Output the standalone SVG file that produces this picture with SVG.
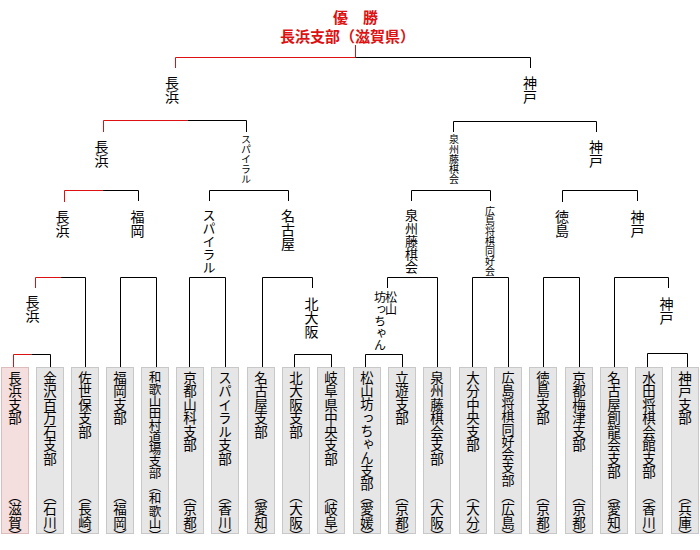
<svg xmlns="http://www.w3.org/2000/svg" width="700" height="550" viewBox="0 0 700 550">
<style>
.bg{fill:#fff}
.box{fill:#e6e6e6;stroke:#c8c8c8;stroke-width:1}
.win{fill:#f4dede;stroke:#dcbcbc;stroke-width:1}
.v{writing-mode:vertical-rl;font-family:"Noto Sans CJK JP","Noto Sans CJK SC",sans-serif;fill:#000}
.n{font-size:13.5px}
.p{font-size:13.5px;font-feature-settings:"vhal" 1;text-anchor:end}
.l{font-size:14px}
.m{font-size:13px}
.s{font-size:10px}
.k{fill:none;stroke:#000;stroke-width:1}
.r{fill:none;stroke:#dd1111;stroke-width:1}
.t{font-family:"Noto Sans CJK JP","Noto Sans CJK SC",sans-serif;font-size:15px;font-weight:bold;fill:#dd1111}
</style>
<rect class="bg" x="0" y="0" width="700" height="550"/>
<g id="title">
<text class="t" x="333" y="23">優　勝</text>
<text class="t" x="280" y="42">長浜支部（滋賀県）</text>
</g>
<g id="connectors">
<path class="r" d="M355.5,45V57.5H175.5V68 M187.5,120.5H103.5V132 M103,190.5H64.5V202 M61,277.5H35.5V288 M31.5,354.5H13.5V367"/>
<path class="k" d="M355.5,57.5H530.5V68 M187.5,120.5H246.5V132 M453.5,132V121.5H596.5V132 M103,190.5H138.5V201 M209.5,201V190.5H288.5V201 M411.5,201V190.5H490.5V201 M562.5,202V190.5H637.5V201 M61,277.5H85.5V367 M120.5,367V277.5H156.5V367 M189.5,367V277.5H225.5V367 M262.5,367V277.5H312.5V288 M387.5,288V277.5H437.5V367 M472.5,367V277.5H508.5V367 M543.5,367V277.5H579.5V367 M614.5,367V277.5H668.5V288 M31.5,354.5H50.5V367 M294.5,367V354.5H331.5V367 M365.5,367V354.5H402.5V367 M647.5,367V353.5H687.5V367"/>
</g>
<g id="w-final-l"><text class="v l" x="172" y="76">長浜</text></g>
<g id="w-final-r"><text class="v l" x="530" y="76">神戸</text></g>
<g id="w-sf-1"><text class="v l" x="101.5" y="140">長浜</text></g>
<g id="w-sf-2"><text class="v s" x="246" y="134">スパイラル</text></g>
<g id="w-sf-3"><text class="v s" x="454" y="134">泉州藤棋会</text></g>
<g id="w-sf-4"><text class="v l" x="596" y="140">神戸</text></g>
<g id="w-qf-1"><text class="v l" x="62.5" y="210">長浜</text></g>
<g id="w-qf-2"><text class="v l" x="137.5" y="210">福岡</text></g>
<g id="w-qf-3"><text class="v m" x="209" y="209">スパイラル</text></g>
<g id="w-qf-4"><text class="v l" x="288" y="209">名古屋</text></g>
<g id="w-qf-5"><text class="v m" x="411.5" y="209">泉州藤棋会</text></g>
<g id="w-qf-6"><text class="v s" x="490" y="206">広島将棋同好会</text></g>
<g id="w-qf-7"><text class="v l" x="562" y="210">徳島</text></g>
<g id="w-qf-8"><text class="v l" x="637.5" y="210">神戸</text></g>
<g id="w-r2-1"><text class="v l" x="32.5" y="295">長浜</text></g>
<g id="w-r2-2"><text class="v l" x="311.5" y="297">北大阪</text></g>
<g id="w-r2-3"><text class="v" style="font-size:12px" x="391" y="291">松山</text><text class="v" style="font-size:12px" x="380" y="291">坊っちゃん</text></g>
<g id="w-r2-4"><text class="v l" x="666.5" y="297">神戸</text></g>
<g id="team-0"><rect class="win" x="1.5" y="367.5" width="27" height="166"/><text class="v n" x="15" y="371">長浜支部</text><text class="v p" x="15" y="536">（滋賀）</text></g>
<g id="team-1"><rect class="box" x="36.5" y="367.5" width="27" height="166"/><text class="v n" x="50" y="371">金沢百万石支部</text><text class="v p" x="50" y="536">（石川）</text></g>
<g id="team-2"><rect class="box" x="71.5" y="367.5" width="27" height="166"/><text class="v n" x="85" y="371">佐世保支部</text><text class="v p" x="85" y="536">（長崎）</text></g>
<g id="team-3"><rect class="box" x="106.5" y="367.5" width="27" height="166"/><text class="v n" x="120" y="371">福岡支部</text><text class="v p" x="120" y="536">（福岡）</text></g>
<g id="team-4"><rect class="box" x="141.5" y="367.5" width="27" height="166"/><text class="v" style="font-size:12.5px;letter-spacing:-0.5px" x="155" y="371">和歌山田村道場支部</text><text class="v p" style="font-size:12.5px" x="155" y="536">（和歌山）</text></g>
<g id="team-5"><rect class="box" x="176.5" y="367.5" width="27" height="166"/><text class="v n" x="190" y="371">京都山科支部</text><text class="v p" x="190" y="536">（京都）</text></g>
<g id="team-6"><rect class="box" x="211.5" y="367.5" width="27" height="166"/><text class="v n" x="225" y="371">スパイラル支部</text><text class="v p" x="225" y="536">（香川）</text></g>
<g id="team-7"><rect class="box" x="247.5" y="367.5" width="27" height="166"/><text class="v n" x="261" y="371">名古屋支部</text><text class="v p" x="261" y="536">（愛知）</text></g>
<g id="team-8"><rect class="box" x="282.5" y="367.5" width="27" height="166"/><text class="v n" x="296" y="371">北大阪支部</text><text class="v p" x="296" y="536">（大阪）</text></g>
<g id="team-9"><rect class="box" x="317.5" y="367.5" width="27" height="166"/><text class="v n" x="331" y="371">岐阜県中央支部</text><text class="v p" x="331" y="536">（岐阜）</text></g>
<g id="team-10"><rect class="box" x="353.5" y="367.5" width="27" height="166"/><text class="v" style="font-size:13.3px" x="367" y="371">松山坊っちゃん支部</text><text class="v p" x="367" y="536">（愛媛）</text></g>
<g id="team-11"><rect class="box" x="388.5" y="367.5" width="27" height="166"/><text class="v n" x="402" y="371">立遊支部</text><text class="v p" x="402" y="536">（京都）</text></g>
<g id="team-12"><rect class="box" x="423.5" y="367.5" width="27" height="166"/><text class="v n" x="437" y="371">泉州藤棋会支部</text><text class="v p" x="437" y="536">（大阪）</text></g>
<g id="team-13"><rect class="box" x="459.5" y="367.5" width="27" height="166"/><text class="v n" x="473" y="371">大分中央支部</text><text class="v p" x="473" y="536">（大分）</text></g>
<g id="team-14"><rect class="box" x="494.5" y="367.5" width="27" height="166"/><text class="v" style="font-size:13px;letter-spacing:-0.2px" x="508" y="371">広島将棋同好会支部</text><text class="v p" x="508" y="536">（広島）</text></g>
<g id="team-15"><rect class="box" x="529.5" y="367.5" width="27" height="166"/><text class="v n" x="543" y="371">徳島支部</text><text class="v p" x="543" y="536">（京都）</text></g>
<g id="team-16"><rect class="box" x="565.5" y="367.5" width="27" height="166"/><text class="v n" x="579" y="371">京都梅津支部</text><text class="v p" x="579" y="536">（京都）</text></g>
<g id="team-17"><rect class="box" x="600.5" y="367.5" width="27" height="166"/><text class="v n" x="614" y="371">名古屋創龍会支部</text><text class="v p" x="614" y="536">（愛知）</text></g>
<g id="team-18"><rect class="box" x="635.5" y="367.5" width="27" height="166"/><text class="v n" x="649" y="371">水田将棋会館支部</text><text class="v p" x="649" y="536">（香川）</text></g>
<g id="team-19"><rect class="box" x="671.5" y="367.5" width="27" height="166"/><text class="v n" x="685" y="371">神戸支部</text><text class="v p" x="685" y="536">（兵庫）</text></g>
</svg>
